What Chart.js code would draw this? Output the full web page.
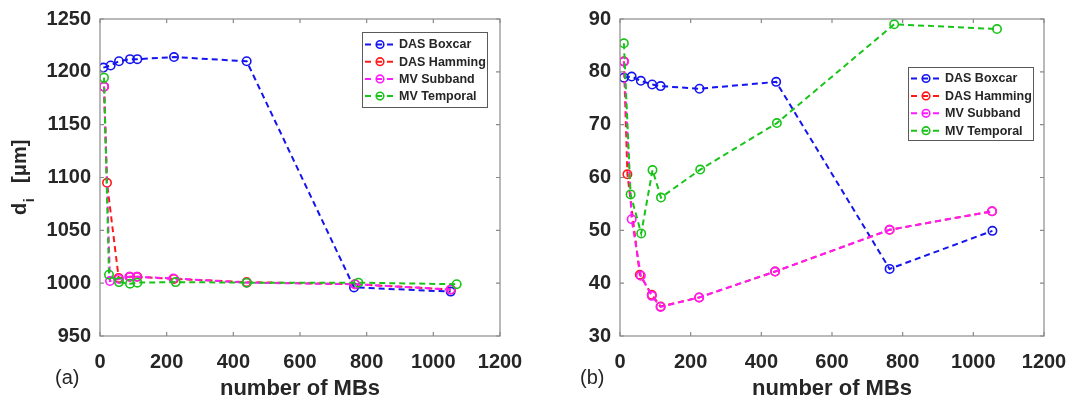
<!DOCTYPE html>
<html>
<head>
<meta charset="utf-8">
<script src="https://cdn.jsdelivr.net/npm/chart.js@4.4.1/dist/chart.umd.min.js"></script>
<style>
  html, body { margin: 0; padding: 0; background: #fff; }
  #wrap { position: relative; width: 1070px; height: 401px; overflow: hidden; }
  .panel { position: absolute; top: 0; width: 535px; height: 401px; }
  .tag { position: absolute; font: 20px "Liberation Sans", Arial, sans-serif; color: #262626; }
</style>
</head>
<body>
<div id="wrap">
  <div class="panel" style="left:0"><canvas id="chartA" width="535" height="401"></canvas></div>
  <div class="panel" style="left:535px"><canvas id="chartB" width="535" height="401"></canvas></div>
  <div class="tag" style="left:55px; top:366px">(a)</div>
  <div class="tag" style="left:580px; top:366px">(b)</div>
</div>
<script>
const seriesNames = ["DAS Boxcar", "DAS Hamming", "MV Subband", "MV Temporal"];
const seriesColors = ["#1414f0", "#ff1a1a", "#ff19ff", "#19c419"];
const xLabel = "number of MBs";

// ----------------------
// (a) d_i values
// ----------------------
const dBoxcarX   = [10, 32, 57, 90, 112, 222, 440, 762, 1052];
const dBoxcarY   = [1204, 1206, 1210, 1212, 1212, 1214, 1210, 996, 992];
const dHammingX  = [12, 21, 56, 90, 112, 222, 440, 765, 1053];
const dHammingY  = [1186, 1095, 1005, 1006, 1006, 1004, 1001, 999, 994];
const dSubbandX  = [12, 30, 57, 88, 110, 220, 440, 765, 1052];
const dSubbandY  = [1186, 1002, 1004, 1006, 1006, 1004.5, 1000.5, 999, 994];
const dTemporalX = [12, 27, 57, 90, 112, 227, 440, 775, 1070];
const dTemporalY = [1194.5, 1008, 1001, 999.5, 1000.5, 1001, 1000.5, 1000.5, 999];

// ----------------------
// (b) sigma_i values
// ----------------------
const sBoxcarX   = [11, 33, 59, 91, 115, 225, 442, 763, 1054];
const sBoxcarY   = [78.9, 79.1, 78.3, 77.6, 77.3, 76.8, 78.1, 42.7, 49.9];
const sHammingX  = [11, 21, 56, 90, 115, 224, 439, 763, 1053];
const sHammingY  = [82, 60.6, 41.6, 37.8, 35.6, 37.3, 42.2, 50.1, 53.6];
const sSubbandX  = [11, 33, 59, 90, 115, 224, 439, 763, 1053];
const sSubbandY  = [81.9, 52.1, 41.4, 37.6, 35.5, 37.3, 42.2, 50.1, 53.6];
const sTemporalX = [11, 30, 60, 92, 116, 227, 444, 776, 1067];
const sTemporalY = [85.4, 56.8, 49.4, 61.4, 56.2, 61.5, 70.3, 89, 88.1];

const FONT = '"Liberation Sans", Arial, sans-serif';
const TEXT = "#262626";

const pts = (xs, ys) => xs.map((x, i) => ({ x, y: ys[i] }));

function buildDatasets(series) {
  return series.map((s, i) => ({
    label: seriesNames[i],
    data: pts(s[0], s[1]),
    showLine: true,
    borderColor: seriesColors[i],
    borderWidth: 2,
    borderDash: [6, 4],
    pointStyle: "circle",
    pointRadius: 4.2,
    pointBorderWidth: 1.6,
    pointBorderColor: seriesColors[i],
    pointBackgroundColor: "rgba(0,0,0,0)",
    // later series sit on top
    order: series.length - i
  }));
}

// frame, inward ticks, axis titles and legend box
function decorPlugin(cfg) {
  return {
    id: "decor",
    afterDraw(chart) {
      const { ctx, chartArea: a, scales } = chart;
      const x = scales.x, y = scales.y;
      ctx.save();

      ctx.strokeStyle = "#8a8a8a";
      ctx.lineWidth = 1.2;
      ctx.strokeRect(a.left, a.top, a.right - a.left, a.bottom - a.top);
      ctx.beginPath();
      x.ticks.forEach(t => {
        const p = x.getPixelForValue(t.value);
        ctx.moveTo(p, a.bottom); ctx.lineTo(p, a.bottom - 4);
        ctx.moveTo(p, a.top); ctx.lineTo(p, a.top + 4);
      });
      y.ticks.forEach(t => {
        const p = y.getPixelForValue(t.value);
        ctx.moveTo(a.left, p); ctx.lineTo(a.left + 4, p);
        ctx.moveTo(a.right, p); ctx.lineTo(a.right - 4, p);
      });
      ctx.stroke();

      // x title
      ctx.fillStyle = TEXT;
      ctx.font = `bold 22px ${FONT}`;
      ctx.textAlign = "center";
      ctx.textBaseline = "alphabetic";
      ctx.fillText(xLabel, (a.left + a.right) / 2, 395);

      // y title with subscript
      ctx.save();
      ctx.translate(cfg.yTitleX, 178);
      ctx.rotate(-Math.PI / 2);
      ctx.textAlign = "left";
      ctx.font = `bold 20px ${FONT}`;
      ctx.fillText(cfg.symbol, -37, 0);
      const w = ctx.measureText(cfg.symbol).width;
      ctx.font = `bold 14px ${FONT}`;
      ctx.fillText("i", -37 + w + 0.5, 8);
      ctx.font = `bold 20px ${FONT}`;
      ctx.fillText("[\u03bcm]", cfg.unitAt, 0);
      ctx.restore();

      // legend
      const L = cfg.legend;
      ctx.fillStyle = "#fff";
      ctx.fillRect(L.x, L.y, L.w, L.h);
      ctx.strokeStyle = "#5a5a5a";
      ctx.lineWidth = 1;
      ctx.strokeRect(L.x + 0.5, L.y + 0.5, L.w, L.h);
      seriesNames.forEach((name, i) => {
        const ry = L.row0 + i * L.step;
        ctx.strokeStyle = seriesColors[i];
        ctx.lineWidth = 2;
        ctx.setLineDash([6, 5]);
        ctx.beginPath();
        ctx.moveTo(L.x + 3, ry);
        ctx.lineTo(L.x + 34, ry);
        ctx.stroke();
        ctx.setLineDash([]);
        ctx.lineWidth = 1.6;
        ctx.beginPath();
        ctx.arc(L.x + 18, ry, 3.8, 0, Math.PI * 2);
        ctx.stroke();
        ctx.fillStyle = TEXT;
        ctx.font = `bold 12.5px ${FONT}`;
        ctx.textAlign = "left";
        ctx.textBaseline = "middle";
        ctx.fillText(name, L.x + 37, ry + 0.5);
      });

      ctx.restore();
    }
  };
}

function makeChart(id, series, yMin, yMax, yStep, axisLeft, axisRight, decor) {
  const tickFont = { family: FONT, size: 20, weight: "bold" };
  return new Chart(document.getElementById(id), {
    type: "scatter",
    data: { datasets: buildDatasets(series) },
    options: {
      responsive: false,
      animation: false,
      events: [],
      layout: { padding: { top: 19, right: 535 - axisRight, left: 0, bottom: 0 } },
      plugins: { legend: { display: false }, tooltip: { enabled: false } },
      scales: {
        x: {
          type: "linear",
          min: 0, max: 1200,
          grid: { display: false, drawTicks: false },
          border: { display: false },
          ticks: { stepSize: 200, padding: 14, color: TEXT, font: tickFont, callback: v => String(v) },
          // keep the plot box where the layout padding puts it
          afterFit: s => { s.height = 65; s.paddingLeft = 0; s.paddingRight = 0; }
        },
        y: {
          min: yMin, max: yMax,
          grid: { display: false, drawTicks: false },
          border: { display: false },
          ticks: { stepSize: yStep, padding: 9, color: TEXT, font: tickFont, callback: v => String(v) },
          afterFit: s => { s.width = axisLeft; s.paddingTop = 0; s.paddingBottom = 0; }
        }
      }
    },
    plugins: [decorPlugin(decor)]
  });
}

window.onload = () => {
  makeChart("chartA",
    [[dBoxcarX, dBoxcarY], [dHammingX, dHammingY], [dSubbandX, dSubbandY], [dTemporalX, dTemporalY]],
    950, 1250, 50, 100, 500,
    { symbol: "d", yTitleX: 26, unitAt: -5,
      legend: { x: 362, y: 32, w: 125, h: 75, row0: 44.5, step: 17.2 } });

  makeChart("chartB",
    [[sBoxcarX, sBoxcarY], [sHammingX, sHammingY], [sSubbandX, sSubbandY], [sTemporalX, sTemporalY]],
    30, 90, 10, 85, 509,
    { symbol: "\u03c3", yTitleX: 567, unitAt: -9,
      legend: { x: 373, y: 67, w: 125, h: 73, row0: 78.5, step: 17.4 } });
};
</script>
</body>
</html>
